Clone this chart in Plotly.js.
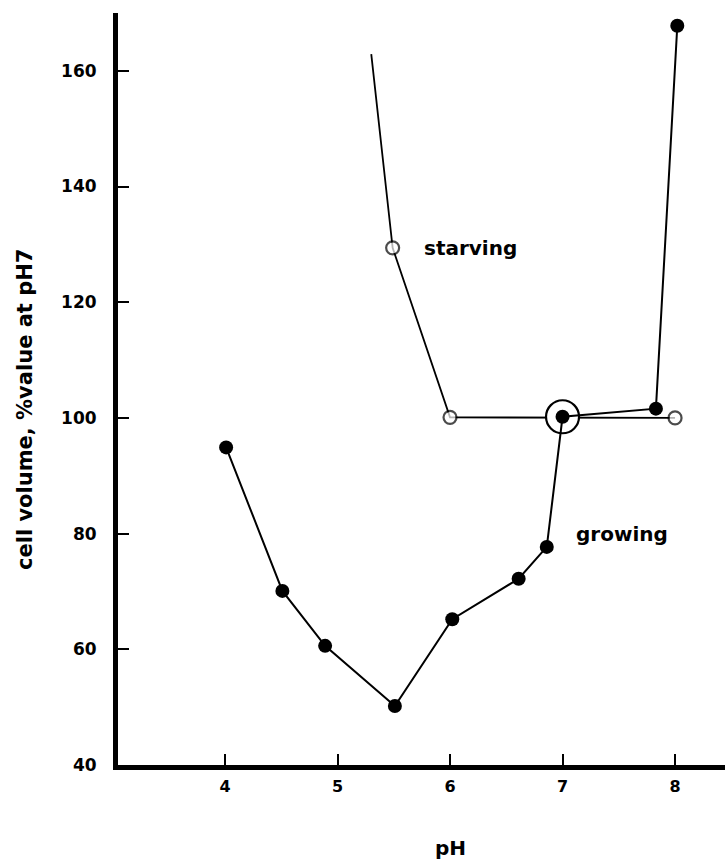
<!DOCTYPE html>
<html>
<head>
<meta charset="utf-8">
<script src="https://cdn.plot.ly/plotly-3.0.1.min.js"></script>
<style>
  html, body { margin: 0; padding: 0; background: #fff; }
  #chart { width: 725px; height: 860px; }
</style>
</head>
<body>
<div id="chart"></div>
<script>
// Growing cells (filled circles)
const growingPH  = [4.01, 4.51, 4.89, 5.51, 6.02, 6.61, 6.86, 7.0, 7.83, 8.02];
const growingVol = [94.9, 70.1, 60.6, 50.2, 65.2, 72.2, 77.7, 100.2, 101.6, 167.8];

// Starving cells (open circles); first value is the line start without a marker
const starvingPH  = [5.30, 5.49, 6.0, 7.0, 8.0];
const starvingVol = [162.9, 129.4, 100.1, 100.1, 100.0];

// Reference point (pH 7 = 100 %)
const refPH  = [7.0];
const refVol = [100.2];

const xTicks = [4, 5, 6, 7, 8];
const yTicks = [40, 60, 80, 100, 120, 140, 160];

const FONT = 'DejaVu Sans, Verdana, sans-serif';

const starvingSizes = starvingPH.map((p, i) => (i === 0 || p === 7 ? 0 : 13));

const traces = [
  {
    x: starvingPH, y: starvingVol, mode: 'lines+markers', type: 'scatter',
    line: { color: '#000', width: 1.8 },
    marker: { symbol: 'circle', size: starvingSizes, color: '#fff', line: { color: '#000', width: 2.2 } },
    hoverinfo: 'skip', showlegend: false
  },
  {
    x: refPH, y: refVol, mode: 'markers', type: 'scatter',
    marker: { symbol: 'circle', size: 33, color: '#fff', line: { color: '#000', width: 2.2 } },
    hoverinfo: 'skip', showlegend: false
  },
  {
    x: growingPH, y: growingVol, mode: 'lines+markers', type: 'scatter',
    line: { color: '#000', width: 2 },
    marker: { symbol: 'circle', size: 14, color: '#000' },
    hoverinfo: 'skip', showlegend: false
  }
];

const layout = {
  width: 725, height: 860,
  margin: { l: 118, r: 0, t: 13, b: 95 },
  paper_bgcolor: '#fff', plot_bgcolor: '#fff',
  font: { family: FONT, color: '#000' },
  xaxis: {
    range: [3.049, 8.444], showgrid: false, zeroline: false,
    showline: true, linecolor: '#000', linewidth: 5,
    ticks: 'inside', ticklen: 11, tickwidth: 2, tickcolor: '#000',
    tickvals: xTicks, ticktext: xTicks.map(String),
    tickfont: { family: FONT, size: 16, weight: 'bold', color: '#000' },
    ticklabelstandoff: 3
  },
  yaxis: {
    range: [40, 170.0], showgrid: false, zeroline: false,
    showline: true, linecolor: '#000', linewidth: 5,
    ticks: 'inside', ticklen: 11, tickwidth: 2, tickcolor: '#000',
    tickvals: yTicks, ticktext: yTicks.map(String),
    tickfont: { family: FONT, size: 17, weight: 'bold', color: '#000' },
    ticklabelstandoff: 13
  },
  annotations: [
    { text: 'starving', x: 6.18, y: 129.3, xref: 'x', yref: 'y', showarrow: false,
      xanchor: 'center', yanchor: 'middle', font: { family: FONT, size: 20, weight: 'bold' } },
    { text: 'growing', x: 7.53, y: 79.9, xref: 'x', yref: 'y', showarrow: false,
      xanchor: 'center', yanchor: 'middle', font: { family: FONT, size: 20, weight: 'bold' } },
    { text: 'pH', x: (450 - 118) / 607, y: (765 - 848) / 752, xref: 'paper', yref: 'paper', showarrow: false,
      xanchor: 'center', yanchor: 'middle', font: { family: FONT, size: 20, weight: 'bold' } },
    { text: 'cell volume, %value at pH7', x: (25 - 118) / 607, y: (765 - 410) / 752, xref: 'paper', yref: 'paper',
      showarrow: false, textangle: -90, xanchor: 'center', yanchor: 'middle',
      font: { family: FONT, size: 21, weight: 'bold' } }
  ]
};

Plotly.newPlot('chart', traces, layout, { staticPlot: true, displayModeBar: false });
</script>
</body>
</html>
